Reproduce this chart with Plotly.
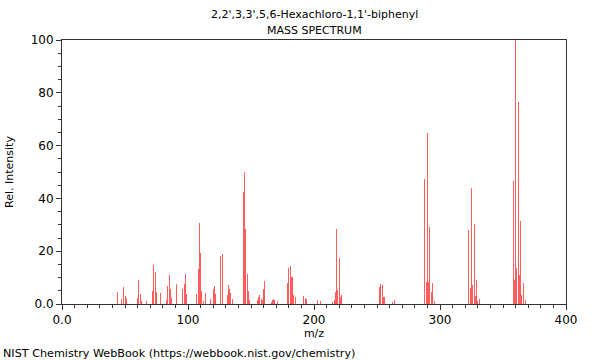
import plotly.graph_objects as go

mz = [44, 47, 49, 50, 51, 60, 61, 62, 63, 67, 72, 73, 74, 75, 78,
      83, 84, 85, 86, 87, 91, 96, 97, 98, 99,
      107, 108, 109, 110, 111, 112, 114, 118, 120, 121, 122, 126, 127,
      131, 132, 133, 134, 135, 144, 145, 146, 147, 148, 149,
      155, 156, 157, 158, 159, 160, 161, 166, 167, 168, 169, 171,
      179, 180, 181, 182, 183, 184, 185, 192, 193, 194, 203, 205,
      215, 216, 217, 218, 219, 220, 221, 222,
      252, 253, 254, 255, 256, 262, 264,
      288, 289, 290, 291, 292, 293, 294, 296,
      323, 324, 325, 326, 327, 328, 329, 330, 331,
      358, 359, 360, 361, 362, 363, 364, 365, 366, 368]
intensity = [4.7, 1.8, 6.3, 3.0, 2.4, 2.3, 9.1, 3.8, 1.3, 1.3, 5.0, 14.8, 12.3, 4.7, 4.2,
             1.5, 6.9, 11.0, 5.6, 2.4, 7.4, 5.7, 7.6, 11.2, 3.7,
             3.8, 13.3, 30.5, 19.2, 4.9, 1.2, 4.0, 1.9, 5.6, 7.0, 3.7, 18.3, 19.1,
             3.5, 7.2, 5.7, 4.0, 1.9, 42.5, 50.0, 28.3, 11.4, 5.0, 1.5,
             1.4, 2.8, 3.3, 1.8, 1.5, 5.7, 8.7, 0.8, 1.6, 1.8, 1.5, 1.1,
             7.8, 13.8, 14.4, 10.1, 10.4, 3.5, 2.8, 3.0, 2.1, 1.8, 1.5, 1.1,
             0.9, 1.5, 4.4, 28.4, 5.3, 17.3, 2.8, 3.4,
             6.6, 7.4, 7.2, 2.5, 2.5, 0.9, 1.5,
             47.2, 8.4, 64.6, 8.5, 29.3, 4.7, 7.8, 1.1,
             28.0, 5.9, 43.8, 7.2, 30.3, 3.0, 9.0, 1.0, 1.9,
             46.7, 9.0, 100.0, 13.6, 76.6, 11.0, 31.4, 3.4, 8.0, 1.5]

x_tickvals = [0, 100, 200, 300, 400]
x_ticktext = ["0.0", "100", "200", "300", "400"]
y_tickvals = [0, 20, 40, 60, 80, 100]
y_ticktext = ["0.0", "20", "40", "60", "80", "100"]

title_line1 = "2,2',3,3',5,6-Hexachloro-1,1'-biphenyl"
title_line2 = "MASS SPECTRUM"
footer = "NIST Chemistry WebBook (https://webbook.nist.gov/chemistry)"

font_family = "DejaVu Sans"

# plot area in pixels: x 62..566, y 40..304
def px_x(p):
    return (p - 62) / 504

def px_y(p):
    return (304 - p) / 264

fig = go.Figure()
fig.add_trace(go.Bar(
    x=mz, y=intensity, width=0.8,
    marker=dict(color="rgba(255,30,30,0.72)", line=dict(width=0)),
    hoverinfo="x+y",
))

axis_common = dict(
    showgrid=False, zeroline=False, showline=True, linecolor="#333333", linewidth=1,
    mirror=True, ticks="outside", ticklen=5, tickcolor="#333333", automargin=False,
    tickfont=dict(family=font_family, size=12, color="#000000"),
)

fig.update_layout(
    width=600, height=360,
    margin=dict(l=62, r=34, t=40, b=56),
    paper_bgcolor="white", plot_bgcolor="white",
    showlegend=False, bargap=0,
    font=dict(family=font_family, size=11, color="#000000"),
    xaxis=dict(range=[0, 400], tickvals=x_tickvals, ticktext=x_ticktext,
               minor=dict(dtick=10, ticklen=3, ticks="outside", tickcolor="#333333"),
               title=dict(text="m/z", font=dict(family=font_family, size=11), standoff=2),
               **axis_common),
    yaxis=dict(range=[0, 100], tickvals=y_tickvals, ticktext=y_ticktext,
               minor=dict(dtick=5, ticklen=3, ticks="outside", tickcolor="#333333"),
               title=dict(text="Rel. Intensity", font=dict(family=font_family, size=11), standoff=14),
               **axis_common),
    annotations=[
        dict(text=title_line1, x=0.5, y=px_y(14), xref="paper", yref="paper",
             showarrow=False, font=dict(family=font_family, size=11),
             xanchor="center", yanchor="middle"),
        dict(text=title_line2, x=0.5, y=px_y(30), xref="paper", yref="paper",
             showarrow=False, font=dict(family=font_family, size=11),
             xanchor="center", yanchor="middle"),
        dict(text=footer, x=px_x(1), y=px_y(353), xref="paper", yref="paper",
             showarrow=False, font=dict(family=font_family, size=11.2),
             xanchor="left", yanchor="middle"),
    ],
)

fig.write_html("out.html", config={"displayModeBar": False},
               post_script="document.body.style.margin='0';")
